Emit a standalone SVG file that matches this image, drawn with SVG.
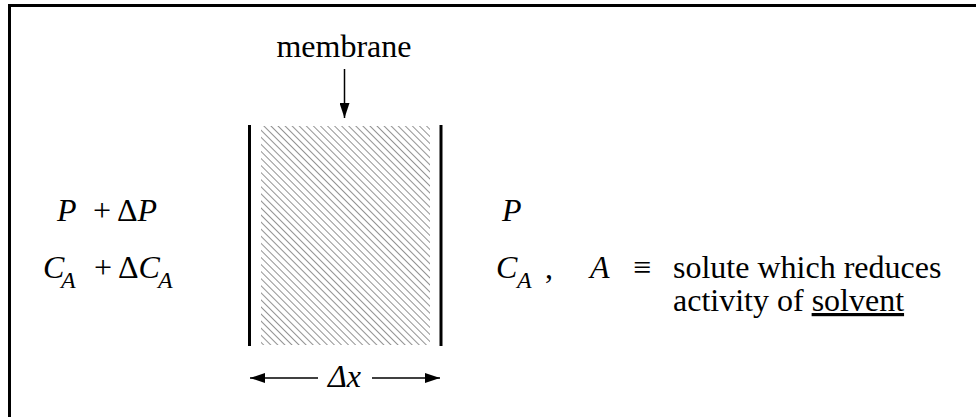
<svg xmlns="http://www.w3.org/2000/svg" width="976" height="417" viewBox="0 0 976 417">
<style>
text{font-family:'Liberation Serif','Times New Roman',Times,'DejaVu Serif',serif;font-size:32px;fill:#000}
.i{font-style:italic}
.sub{font-size:24px;font-style:italic}
.ln{stroke:#000;fill:none}
</style>
<defs>
<pattern id="hatch" patternUnits="userSpaceOnUse" width="5" height="5" patternTransform="rotate(45)">
<line x1="0" y1="2.5" x2="5" y2="2.5" stroke="#777" stroke-width="0.8"/>
</pattern>
<marker id="ah" markerWidth="15" markerHeight="10" refX="15" refY="5" orient="auto" markerUnits="userSpaceOnUse">
<path d="M0,0 L15,5 L0,10 Z" fill="#000"/>
</marker>
</defs>
<rect width="976" height="417" fill="#fff"/>
<g id="frame">
<path class="ln" stroke-width="3" d="M9.5,417 V5.5 H976"/>
</g>
<g id="membrane">
<rect x="261" y="126" width="169" height="219" fill="url(#hatch)"/>
<line class="ln" stroke-width="3" x1="249.5" y1="125" x2="249.5" y2="346"/>
<line class="ln" stroke-width="3" x1="441" y1="125" x2="441" y2="346"/>
<text x="344" y="57" text-anchor="middle">membrane</text>
</g>
<g id="left">
<text x="57" y="221"><tspan class="i">P</tspan><tspan x="93">+</tspan><tspan x="117">Δ</tspan><tspan class="i">P</tspan></text>
<text x="43" y="278"><tspan class="i">C</tspan><tspan class="sub" x="61" y="288">A</tspan><tspan x="94" y="278">+</tspan><tspan x="118">Δ</tspan><tspan class="i">C</tspan><tspan class="sub" x="158" y="288">A</tspan></text>
</g>
<g id="right">
<text x="502" y="221" class="i">P</text>
<text x="496" y="278"><tspan class="i">C</tspan><tspan class="sub" x="517" y="288">A</tspan><tspan x="545" y="278">,</tspan></text>
<text x="590" y="278" class="i">A</text>
<text x="633" y="278">≡</text>
<text x="673" y="278">solute which reduces</text>
<text x="673" y="311">activity of <tspan text-decoration="underline">solvent</tspan></text>
</g>
<g id="connectors">
<line class="ln" stroke-width="1.5" x1="344.5" y1="69" x2="344.5" y2="118" marker-end="url(#ah)"/>
<line class="ln" stroke-width="1.5" x1="318" y1="378" x2="250" y2="378" marker-end="url(#ah)"/>
<line class="ln" stroke-width="1.5" x1="372" y1="378" x2="440" y2="378" marker-end="url(#ah)"/>
</g>
<text x="328" y="387" class="i">Δx</text>
</svg>
